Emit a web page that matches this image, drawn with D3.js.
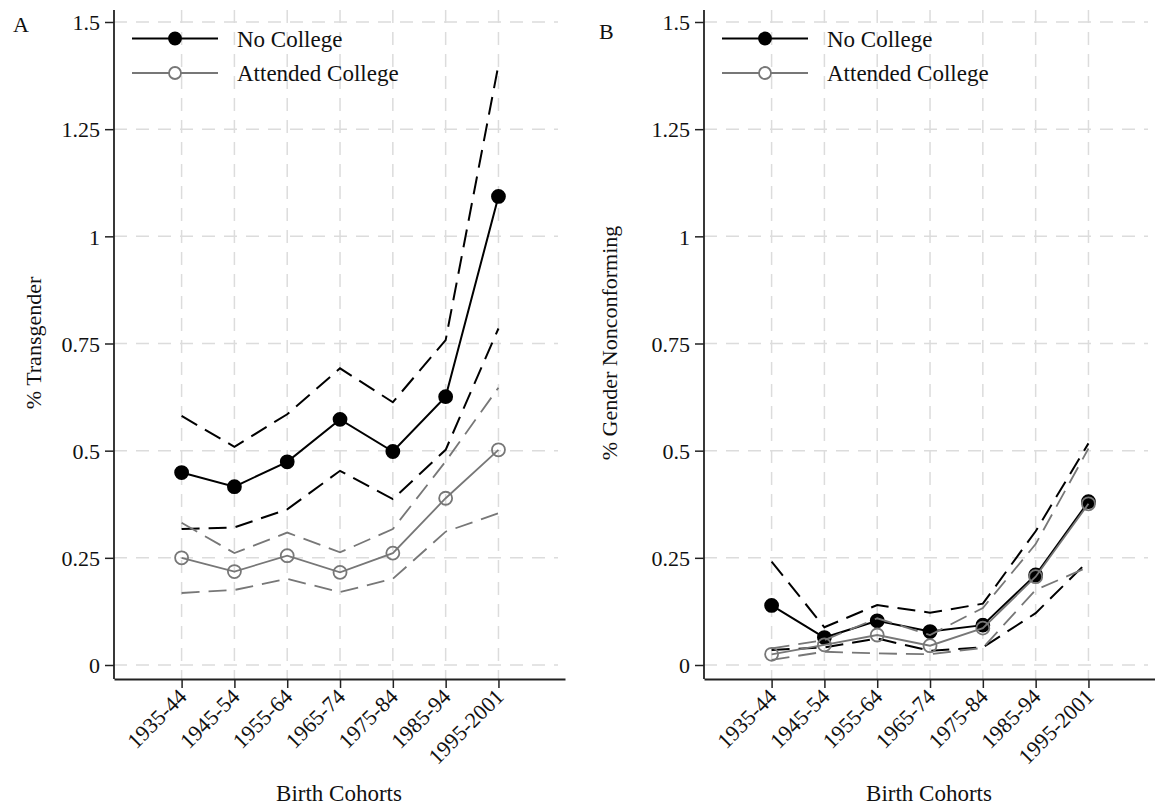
<html>

<head>
  <script src="https://d3js.org/d3.v7.min.js"></script>
  <style>
    body {
      margin: 0;
      background: #fff;
    }

    svg text {
      font-family: "Liberation Serif", "Times New Roman", serif;
      fill: #111;
    }

    .grid line {
      stroke: #dcdcdc;
      stroke-width: 1.5;
      stroke-dasharray: 13, 9;
    }
  </style>
</head>

<body>
  <svg id="chart" width="1155" height="808"></svg>
  <script>
    // birth cohorts on the x axis
    const cohorts = ["1935-44", "1945-54", "1955-64", "1965-74", "1975-84", "1985-94", "1995-2001"]
    const yTicks = [0, 0.25, 0.5, 0.75, 1, 1.25, 1.5]
    const yTickLabels = ["0", "0.25", "0.5", "0.75", "1", "1.25", "1.5"]

    // panel A: % transgender
    const transNoCol = [0.449, 0.416, 0.474, 0.573, 0.498, 0.626, 1.093]
    const transNoColLo = [0.317, 0.321, 0.363, 0.453, 0.387, 0.502, 0.785]
    const transNoColHi = [0.581, 0.509, 0.585, 0.692, 0.613, 0.758, 1.40]
    const transCol = [0.250, 0.218, 0.255, 0.216, 0.261, 0.389, 0.502]
    const transColLo = [0.168, 0.175, 0.201, 0.170, 0.201, 0.311, 0.354]
    const transColHi = [0.332, 0.261, 0.309, 0.263, 0.317, 0.475, 0.647]

    // panel B: % gender nonconforming
    const gncNoCol = [0.139, 0.064, 0.103, 0.078, 0.093, 0.210, 0.381]
    const gncNoColLo = [0.035, 0.041, 0.062, 0.033, 0.041, 0.121, 0.243]
    const gncNoColHi = [0.241, 0.088, 0.140, 0.122, 0.143, 0.312, 0.517]
    const gncCol = [0.025, 0.047, 0.070, 0.045, 0.086, 0.206, 0.376]
    const gncColLo = [0.012, 0.031, 0.027, 0.025, 0.040, 0.175, 0.229]
    const gncColHi = [0.039, 0.058, 0.109, 0.070, 0.133, 0.282, 0.505]

    const legendLabels = ["No College", "Attended College"]
    const black = "#000"
    const gray = "#777"

    const svg = d3.select("#chart")

    function drawPanel(opts) {
      const g = svg.append("g").attr("transform", `translate(${opts.left},0)`)
      const plotW = 451
      const axisY = 679
      const topY = 10

      const x = d3.scaleLinear().domain([-1.28, 7.26]).range([0, plotW])
      const y = d3.scaleLinear().domain([0, 1.5]).range([665, 22])

      // gridlines
      const grid = g.append("g").attr("class", "grid")
      grid.selectAll("line.h").data(yTicks).join("line")
        .attr("class", "h")
        .attr("x1", 0).attr("x2", plotW - 7)
        .attr("y1", d => y(d)).attr("y2", d => y(d))
      grid.selectAll("line.v").data(cohorts).join("line")
        .attr("class", "v")
        .attr("x1", (d, i) => x(i)).attr("x2", (d, i) => x(i))
        .attr("y1", topY).attr("y2", axisY)

      // y axis
      const yAxis = d3.axisLeft(y)
        .tickValues(yTicks)
        .tickFormat((d, i) => yTickLabels[i])
        .tickSize(9)
        .tickPadding(5)
      const ya = g.append("g").call(yAxis)
      ya.select(".domain").remove()
      ya.selectAll("line").attr("stroke", "#222").attr("stroke-width", 1.5)
      ya.selectAll("text").style("font-size", "22px").attr("dy", "0.35em")
        .style("font-family", "'Liberation Serif', serif")
      g.append("line")
        .attr("x1", 0).attr("x2", 0).attr("y1", topY).attr("y2", axisY)
        .attr("stroke", "#222").attr("stroke-width", 1.8)

      // x axis
      const xAxis = d3.axisBottom(x)
        .tickValues(d3.range(cohorts.length))
        .tickFormat(i => cohorts[i])
        .tickSize(9)
        .tickSizeOuter(0)
      const xa = g.append("g").attr("transform", `translate(0,${axisY})`).call(xAxis)
      xa.select(".domain").attr("stroke", "#222").attr("stroke-width", 1.8)
      xa.selectAll("line").attr("stroke", "#222").attr("stroke-width", 1.5)
      xa.selectAll("text")
        .style("font-size", "22px")
        .style("font-family", "'Liberation Serif', serif")
        .attr("text-anchor", "end")
        .attr("dy", null)
        .attr("y", 0)
        .attr("transform", "translate(6,19) rotate(-45)")

      // series
      const line = d3.line().x((d, i) => x(i)).y(d => y(d))
      opts.series.forEach(s => {
        [s.lo, s.hi].forEach(ci => {
          g.append("path")
            .attr("d", line(ci))
            .attr("fill", "none")
            .attr("stroke", s.color)
            .attr("stroke-width", s.filled ? 2 : 1.8)
            .attr("stroke-dasharray", "18,9")
        })
        g.append("path")
          .attr("d", line(s.values))
          .attr("fill", "none")
          .attr("stroke", s.color)
          .attr("stroke-width", s.filled ? 2 : 1.8)
        g.selectAll(null).data(s.values).join("circle")
          .attr("cx", (d, i) => x(i))
          .attr("cy", d => y(d))
          .attr("r", 6.5)
          .attr("fill", s.filled ? s.color : "none")
          .attr("stroke", s.color)
          .attr("stroke-width", 1.8)
      })

      // legend
      const leg = g.selectAll("g.leg").data(opts.series).join("g")
        .attr("class", "leg")
        .attr("transform", (d, i) => `translate(18,${38.5 + i * 34.5})`)
      leg.append("line")
        .attr("x1", 0).attr("x2", 86).attr("y1", 0).attr("y2", 0)
        .attr("stroke", d => d.color).attr("stroke-width", d => d.filled ? 2 : 1.8)
      leg.append("circle")
        .attr("cx", 43).attr("cy", 0).attr("r", 6)
        .attr("fill", d => d.filled ? d.color : "#fff")
        .attr("stroke", d => d.color).attr("stroke-width", 1.8)
      leg.append("text")
        .attr("x", 105).attr("y", 8)
        .style("font-size", "23px")
        .text((d, i) => legendLabels[i])

      // titles
      svg.append("text")
        .attr("x", opts.letterX).attr("y", opts.letterY)
        .style("font-size", "22px")
        .text(opts.letter)
      svg.append("text")
        .attr("transform", `translate(${opts.yTitleX},343) rotate(-90)`)
        .attr("text-anchor", "middle")
        .style("font-size", "22px")
        .text(opts.yTitle)
      g.append("text")
        .attr("x", 225).attr("y", 801)
        .attr("text-anchor", "middle")
        .style("font-size", "23px")
        .text("Birth Cohorts")
    }

    drawPanel({
      left: 114,
      letter: "A", letterX: 13, letterY: 32,
      yTitle: "% Transgender", yTitleX: 41,
      series: [
        { values: transNoCol, lo: transNoColLo, hi: transNoColHi, color: black, filled: true },
        { values: transCol, lo: transColLo, hi: transColHi, color: gray, filled: false }
      ]
    })

    drawPanel({
      left: 704,
      letter: "B", letterX: 599, letterY: 39,
      yTitle: "% Gender Nonconforming", yTitleX: 617,
      series: [
        { values: gncNoCol, lo: gncNoColLo, hi: gncNoColHi, color: black, filled: true },
        { values: gncCol, lo: gncColLo, hi: gncColHi, color: gray, filled: false }
      ]
    })
  </script>
</body>

</html>
